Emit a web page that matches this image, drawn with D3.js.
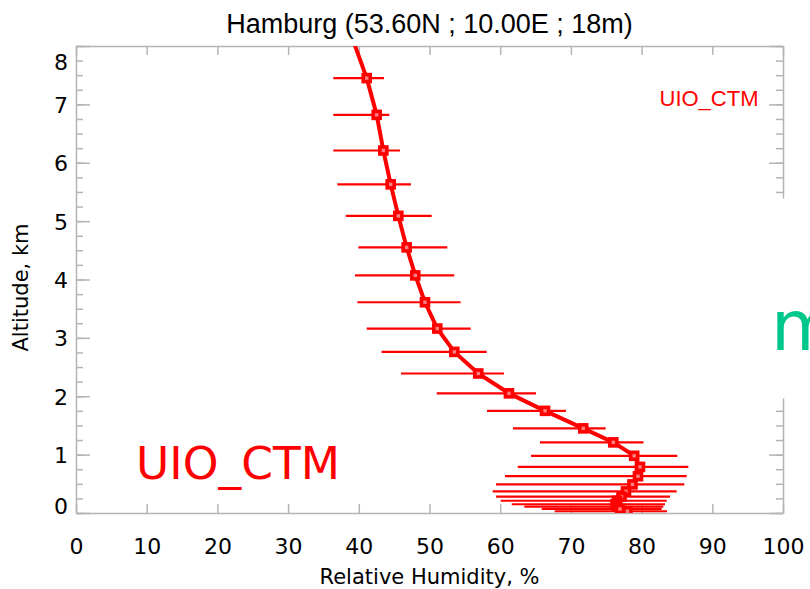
<!DOCTYPE html>
<html lang="en">
<head>
  <meta charset="UTF-8">
  <title>Hamburg - Relative Humidity profile</title>
  <script src="https://d3js.org/d3.v7.min.js"></script>
  <style>
    body {
      margin: 0;
      background-color: white;
    }
    svg {
      display: block;
    }
    .axis path, .axis line {
      stroke: #b4b4b4;
      stroke-width: 1.5;
    }
    .axis text {
      font-family: "DejaVu Sans", sans-serif;
      font-size: 22px;
      fill: black;
    }
  </style>
</head>
<body>
<script>
  // altitude (km) of each model level
  const altitude = [8.11, 7.45, 6.82, 6.21, 5.63, 5.09, 4.55, 4.07, 3.61, 3.16, 2.76, 2.39, 2.05, 1.75,
    1.45, 1.21, 0.98, 0.79, 0.63, 0.49, 0.37, 0.28, 0.21, 0.15, 0.11, 0.07, 0.03];
  // mean relative humidity (%)
  const humidity = [39.15, 41.12, 42.53, 43.47, 44.51, 45.59, 46.77, 47.99, 49.36, 51.10, 53.51, 56.90, 61.24, 66.34,
    71.75, 76.0, 78.95, 79.77, 79.49, 78.71, 77.79, 77.16, 76.52, 76.31, 76.52, 76.94, 78.0];
  // error bar ends (%)
  const humidityLow = [34.0, 36.39, 36.39, 36.39, 36.96, 38.15, 39.93, 39.46, 39.79, 41.12, 43.22, 45.97, 51.02, 58.13,
    61.81, 65.63, 64.36, 62.48, 60.68, 59.41, 58.94, 59.41, 60.07, 61.63, 63.41, 65.87, 67.7];
  const humidityHigh = [42.0, 43.56, 44.31, 45.83, 47.38, 50.31, 52.52, 53.5, 54.41, 55.83, 58.09, 60.54, 65.06, 69.31,
    74.92, 80.27, 85.05, 86.61, 86.38, 86.04, 84.96, 84.02, 83.55, 83.31, 83.07, 82.84, 83.6];

  const xTicks = [0, 10, 20, 30, 40, 50, 60, 70, 80, 90, 100];
  const yTicks = [0, 1, 2, 3, 4, 5, 6, 7, 8];
  const yMinorTicks = d3.range(0, 8.01, 0.25);

  const titleText = "Hamburg (53.60N ; 10.00E ; 18m)";
  const modelName = "UIO_CTM";

  const width = 810, height = 589;
  const margin = { left: 76, right: 27, top: 46, bottom: 76 };

  const svg = d3.select("body").append("svg")
    .attr("width", width)
    .attr("height", height);

  const x = d3.scaleLinear().domain([0, 100]).range([margin.left, width - margin.right]);
  const y = d3.scaleLinear().domain([0, 8]).range([height - margin.bottom, margin.top]);

  const data = altitude.map((a, i) => ({
    alt: a, rh: humidity[i], lo: humidityLow[i], hi: humidityHigh[i]
  }));

  svg.append("clipPath").attr("id", "plotClip")
    .append("rect")
    .attr("x", x(0)).attr("y", y(8))
    .attr("width", x(100) - x(0)).attr("height", y(0) - y(8));

  // axes
  svg.append("g").attr("class", "axis")
    .attr("transform", `translate(0,${y(0)})`)
    .call(d3.axisBottom(x).tickValues(xTicks).tickSize(-9).tickSizeOuter(0).tickPadding(25).tickFormat(d3.format("d")));

  svg.append("g").attr("class", "axis")
    .attr("transform", `translate(0,${y(8)})`)
    .call(d3.axisTop(x).tickValues(xTicks).tickSize(-9).tickSizeOuter(0).tickFormat(""));

  const left = svg.append("g").attr("class", "axis")
    .attr("transform", `translate(${x(0)},0)`)
    .call(d3.axisLeft(y).tickValues(yTicks).tickSize(-14).tickSizeOuter(0).tickPadding(8).tickFormat(d3.format("d")));
  // keep the end labels inside the axis range
  left.selectAll(".tick text")
    .attr("dy", d => d === 8 ? "1.05em" : d === 0 ? "0.0em" : "0.36em");

  svg.append("g").attr("class", "axis")
    .attr("transform", `translate(${x(0)},0)`)
    .call(d3.axisLeft(y).tickValues(yMinorTicks).tickSize(-7).tickSizeOuter(0).tickFormat(""))
    .select(".domain").remove();

  svg.append("g").attr("class", "axis")
    .attr("transform", `translate(${x(100)},0)`)
    .call(d3.axisRight(y).tickValues(yTicks).tickSize(-14).tickSizeOuter(0).tickFormat(""));

  svg.append("g").attr("class", "axis")
    .attr("transform", `translate(${x(100)},0)`)
    .call(d3.axisRight(y).tickValues(yMinorTicks).tickSize(-7).tickSizeOuter(0).tickFormat(""))
    .select(".domain").remove();

  // data
  const plot = svg.append("g").attr("clip-path", "url(#plotClip)");

  plot.selectAll(".errbar")
    .data(data)
    .enter().append("line")
    .attr("class", "errbar")
    .attr("x1", d => x(d.lo))
    .attr("x2", d => x(d.hi))
    .attr("y1", d => y(d.alt))
    .attr("y2", d => y(d.alt))
    .attr("stroke", "#ff0000")
    .attr("stroke-width", 2.2);

  const line = d3.line().x(d => x(d.rh)).y(d => y(d.alt));
  plot.append("path")
    .datum(data)
    .attr("d", line)
    .attr("fill", "none")
    .attr("stroke", "#ff0000")
    .attr("stroke-width", 4)
    .attr("stroke-linejoin", "round");

  plot.selectAll(".marker")
    .data(data)
    .enter().append("rect")
    .attr("class", "marker")
    .attr("x", d => x(d.rh) - 3.5)
    .attr("y", d => y(d.alt) - 3.5)
    .attr("width", 7)
    .attr("height", 7)
    .attr("fill", "#ff8080")
    .attr("stroke", "#ff0000")
    .attr("stroke-width", 3.6);

  // titles
  svg.append("text")
    .attr("x", (x(0) + x(100)) / 2)
    .attr("y", 33)
    .attr("text-anchor", "middle")
    .style("font-family", "'Liberation Sans', Arial, sans-serif")
    .style("font-size", "27px")
    .text(titleText);

  svg.append("text")
    .attr("x", (x(0) + x(100)) / 2)
    .attr("y", 584)
    .attr("text-anchor", "middle")
    .style("font-family", "'DejaVu Sans', sans-serif")
    .style("font-size", "21px")
    .text("Relative Humidity, %");

  svg.append("text")
    .attr("transform", `translate(28,${(y(0) + y(8)) / 2 + 8}) rotate(-90)`)
    .attr("text-anchor", "middle")
    .style("font-family", "'DejaVu Sans', sans-serif")
    .style("font-size", "21px")
    .text("Altitude, km");

  svg.append("text")
    .attr("x", 709)
    .attr("y", 105.5)
    .attr("text-anchor", "middle")
    .attr("fill", "#ff0000")
    .style("font-family", "'Liberation Sans', Arial, sans-serif")
    .style("font-size", "22px")
    .text(modelName);

  // slide overlays
  svg.append("text")
    .attr("x", 136)
    .attr("y", 479)
    .attr("fill", "#ff0000")
    .attr("textLength", 204)
    .attr("lengthAdjust", "spacingAndGlyphs")
    .style("font-family", "'Comic Sans MS', 'DejaVu Sans', sans-serif")
    .style("font-size", "45px")
    .text(modelName);

  svg.append("rect")
    .attr("x", 760).attr("y", 198.5)
    .attr("width", 50).attr("height", 200)
    .attr("fill", "white");

  // the slide's green word runs past the right edge of the picture
  svg.append("text")
    .attr("x", 771)
    .attr("y", 350)
    .attr("fill", "#00c78c")
    .style("font-family", "'Comic Sans MS', 'DejaVu Sans', sans-serif")
    .style("font-size", "70px")
    .text("m");
</script>
</body>
</html>
